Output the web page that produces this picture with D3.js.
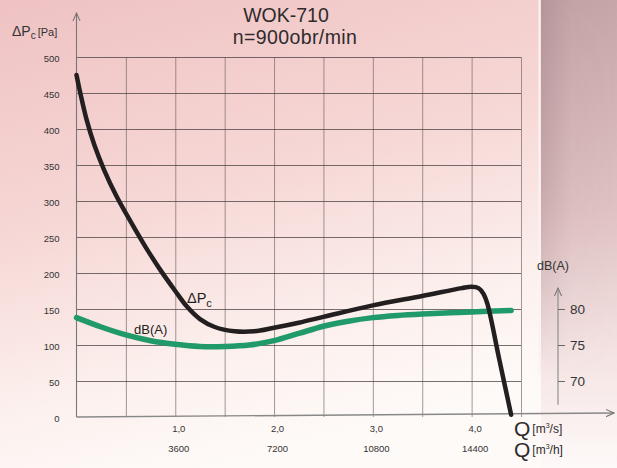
<!DOCTYPE html>
<html><head><meta charset="utf-8">
<script src="https://cdn.jsdelivr.net/npm/d3@7"></script>
<style>
html,body{margin:0;padding:0;}
body{width:617px;height:468px;overflow:hidden;}
svg{display:block;font-family:"Liberation Sans",Arial,sans-serif;}
</style></head>
<body>
<svg id="c" width="617" height="468"></svg>
<script>
// ---- data ----
const paTicks = [0,50,100,150,200,250,300,350,400,450,500];
const qGrid = [0.5,1,1.5,2,2.5,3,3.5,4,4.5];
const qTicks = [1,2,3,4];
const qTickLabels = ["1,0","2,0","3,0","4,0"];
const qhTickLabels = ["3600","7200","10800","14400"];
const dbTicks = [70,75,80];
// pressure curve ΔPc [Pa] vs Q [m3/s]
const pQ  = [0,0.04,0.1,0.18,0.28,0.4,0.55,0.7,0.85,1.0,1.12,1.25,1.4,1.6,1.8,2.0,2.25,2.5,3.0,3.5,3.9,4.0,4.07,4.12,4.16,4.28,4.4];
const pPa = [475,449,414,378,343,308,271,236,204,175,153,136,125,119,119,124,131,139,155,168,179,181,179,171,157,80,3];
// noise curve dB(A) vs Q [m3/s]
const nQ  = [0,0.25,0.5,0.75,1.0,1.25,1.5,1.75,2.0,2.25,2.5,2.75,3.0,3.25,3.5,4.0,4.4];
const nDb = [78.8,77.5,76.4,75.6,75.1,74.8,74.8,75.0,75.6,76.6,77.6,78.3,78.8,79.1,79.3,79.6,79.8];

const svg = d3.select("#c");
const W=617,H=468;
const defs = svg.append("defs");
const bg = defs.append("linearGradient").attr("id","bg").attr("x1",0).attr("y1",0).attr("x2",0.35).attr("y2",1);
bg.append("stop").attr("offset","0%").attr("stop-color","#efc2c3");
bg.append("stop").attr("offset","45%").attr("stop-color","#f6d7d5");
bg.append("stop").attr("offset","80%").attr("stop-color","#fcf1ee");
bg.append("stop").attr("offset","100%").attr("stop-color","#fefaf8");
const rs = defs.append("linearGradient").attr("id","rs").attr("x1",0).attr("y1",0).attr("x2",0).attr("y2",1);
rs.append("stop").attr("offset","0%").attr("stop-color","#c7a6a9");
rs.append("stop").attr("offset","45%").attr("stop-color","#e0c2c3");
rs.append("stop").attr("offset","78%").attr("stop-color","#f5e6e5");
rs.append("stop").attr("offset","100%").attr("stop-color","#fdf9f8");
const rh = defs.append("linearGradient").attr("id","rh").attr("x1",0).attr("y1",0).attr("x2",1).attr("y2",0);
rh.append("stop").attr("offset","0%").attr("stop-color","#a98a8e").attr("stop-opacity",0.6);
rh.append("stop").attr("offset","40%").attr("stop-color","#a98a8e").attr("stop-opacity",0.1);
rh.append("stop").attr("offset","100%").attr("stop-color","#a98a8e").attr("stop-opacity",0);
const mg = defs.append("linearGradient").attr("id","mg").attr("x1",0).attr("y1",0).attr("x2",0).attr("y2",1);
mg.append("stop").attr("offset","0%").attr("stop-color","#fff");
mg.append("stop").attr("offset","40%").attr("stop-color","#fff").attr("stop-opacity",0.7);
mg.append("stop").attr("offset","80%").attr("stop-color","#fff").attr("stop-opacity",0);
defs.append("mask").attr("id","mk").attr("maskUnits","userSpaceOnUse")
  .append("rect").attr("x",0).attr("y",0).attr("width",W).attr("height",H).attr("fill","url(#mg)");

svg.append("rect").attr("width",W).attr("height",H).attr("fill","url(#bg)");
svg.append("rect").attr("x",541).attr("width",W-541).attr("height",H).attr("fill","url(#rs)");
svg.append("rect").attr("x",541).attr("width",W-541).attr("height",H).attr("fill","url(#rh)").attr("mask","url(#mk)");
svg.append("line").attr("x1",539.5).attr("x2",539.5).attr("y1",0).attr("y2",H*0.8).attr("stroke","#fbf2f2").attr("stroke-width",2);

// arrow marker
defs.append("marker").attr("id","arr").attr("viewBox","0 0 10 10").attr("refX",9).attr("refY",5)
  .attr("markerWidth",9).attr("markerHeight",9).attr("markerUnits","userSpaceOnUse").attr("orient","auto")
  .append("path").attr("d","M0,1 L9,5 L0,9").attr("fill","none").attr("stroke","#777").attr("stroke-width",1.2);

// scales
const x = d3.scaleLinear().domain([0,4.5]).range([76.5,521]);
const y = d3.scaleLinear().domain([0,500]).range([417,57]);
const yDb = d3.scaleLinear().domain([65,115]).range([417,57]);

// grid
const gc = "#6a5e5e";
svg.append("g").attr("transform",`translate(0,${y(0)})`)
  .call(d3.axisBottom(x).tickValues(qGrid).tickSize(-(y(0)-y(500))).tickFormat(""))
  .call(g=>g.select(".domain").remove())
  .call(g=>g.selectAll("line").attr("stroke",gc).attr("stroke-width",0.9).attr("opacity",0.7));
svg.append("g").attr("transform",`translate(${x(0)},0)`)
  .call(d3.axisLeft(y).tickValues(paTicks.slice(1)).tickSize(-(x(4.5)-x(0))).tickFormat(""))
  .call(g=>g.select(".domain").remove())
  .call(g=>g.selectAll("line").attr("stroke","#4a4042").attr("stroke-width",1).attr("opacity",0.75));

// main axes with arrows
svg.append("line").attr("x1",x(0)).attr("y1",y(0)).attr("x2",x(0)).attr("y2",13)
  .attr("stroke","#777").attr("stroke-width",1.1).attr("marker-end","url(#arr)");
svg.append("line").attr("x1",x(0)).attr("y1",y(0)).attr("x2",614).attr("y2",y(0)-4)
  .attr("stroke","#888").attr("stroke-width",1.4).attr("marker-end","url(#arr)");

// left tick labels
svg.append("g").attr("transform",`translate(${x(0)},0)`)
  .call(d3.axisLeft(y).tickValues(paTicks).tickSize(0).tickPadding(17))
  .call(g=>g.select(".domain").remove())
  .call(g=>g.selectAll("text").attr("fill","#333").attr("font-size",9.5).attr("dy","0.45em")
    .attr("font-family","'Liberation Sans',Arial,sans-serif"));

// bottom tick labels
svg.append("g").attr("transform",`translate(3,${y(0)})`)
  .call(d3.axisBottom(x).tickValues(qTicks).tickSize(0).tickPadding(8).tickFormat((d,i)=>qTickLabels[i]))
  .call(g=>g.select(".domain").remove())
  .call(g=>g.selectAll("text").attr("fill","#333").attr("font-size",9.5)
    .attr("font-family","'Liberation Sans',Arial,sans-serif"));
svg.append("g").attr("transform",`translate(3,${y(0)+20})`)
  .call(d3.axisBottom(x).tickValues(qTicks).tickSize(0).tickPadding(8).tickFormat((d,i)=>qhTickLabels[i]))
  .call(g=>g.select(".domain").remove())
  .call(g=>g.selectAll("text").attr("fill","#333").attr("font-size",9.5)
    .attr("font-family","'Liberation Sans',Arial,sans-serif"));

// right dB axis
const dbX = 558;
svg.append("line").attr("x1",dbX).attr("x2",dbX).attr("y1",yDb(66.7)).attr("y2",yDb(82.9))
  .attr("stroke","#888").attr("stroke-width",1.1).attr("marker-end","url(#arr)");
svg.append("g").attr("transform",`translate(${dbX},0)`)
  .call(d3.axisRight(yDb).tickValues(dbTicks).tickSize(7).tickPadding(5))
  .call(g=>g.select(".domain").remove())
  .call(g=>g.selectAll("line").attr("stroke","#666").attr("stroke-width",1))
  .call(g=>g.selectAll("text").attr("fill","#333").attr("font-size",13.5)
    .attr("font-family","'Liberation Sans',Arial,sans-serif"));
svg.append("text").attr("x",553).attr("y",270).attr("text-anchor","middle")
  .attr("font-size",12.5).attr("fill","#333").text("dB(A)");

// curves
const noise = nQ.map((q,i)=>[q,nDb[i]]);
const press = pQ.map((q,i)=>[q,pPa[i]]);
svg.append("path").datum(noise)
  .attr("d",d3.line().x(d=>x(d[0])).y(d=>yDb(d[1])).curve(d3.curveCatmullRom.alpha(0.5)))
  .attr("fill","none").attr("stroke","#1f9a68").attr("stroke-width",5.5).attr("stroke-linecap","round");
svg.append("path").datum(press)
  .attr("d",d3.line().x(d=>x(d[0])).y(d=>y(d[1])).curve(d3.curveCatmullRom.alpha(0.5)))
  .attr("fill","none").attr("stroke","#231f20").attr("stroke-width",4.5).attr("stroke-linecap","round").attr("stroke-linejoin","round");

// curve labels
const lp = svg.append("text").attr("x",187).attr("y",303).attr("font-size",14.5).attr("fill","#222");
lp.append("tspan").text("ΔP");
lp.append("tspan").attr("font-size",11).attr("dy",4).text("c");
svg.append("text").attr("x",134).attr("y",334).attr("font-size",13).attr("fill","#222").text("dB(A)");

// titles
svg.append("text").attr("x",286).attr("y",22).attr("text-anchor","middle").attr("font-size",19.5)
  .attr("fill","#2e2b2c").text("WOK-710");
svg.append("text").attr("x",295).attr("y",44).attr("text-anchor","middle").attr("font-size",19.5)
  .attr("letter-spacing",0.4).attr("fill","#2e2b2c").text("n=900obr/min");

// y-axis title
const yt = svg.append("text").attr("x",12).attr("y",36).attr("fill","#333");
yt.append("tspan").attr("font-size",14).text("ΔP");
yt.append("tspan").attr("font-size",10).attr("dy",3).text("c");
yt.append("tspan").attr("font-size",11).attr("dy",-3).attr("dx",2).text("[Pa]");

// Q axis titles
function qTitle(yy, unitEnd){
  const t = svg.append("text").attr("x",514).attr("y",yy).attr("fill","#2e2b2c");
  t.append("tspan").attr("font-size",21).text("Q");
  t.append("tspan").attr("font-size",12).attr("dx",2).attr("dy",-3).text("[m");
  t.append("tspan").attr("font-size",7).attr("dy",-5).text("3");
  t.append("tspan").attr("font-size",12).attr("dy",5).text(unitEnd);
}
qTitle(436,"/s]");
qTitle(457,"/h]");
</script>
</body></html>
